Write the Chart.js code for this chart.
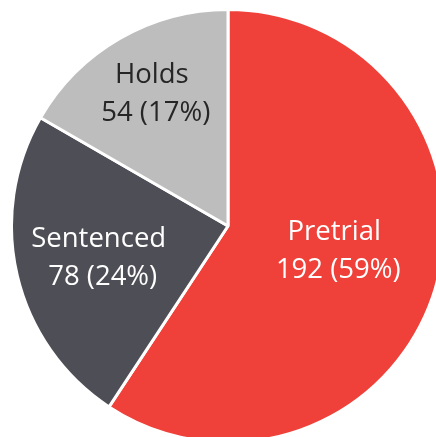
<!DOCTYPE html>
<html>
<head>
<meta charset="utf-8">
<script src="https://cdn.jsdelivr.net/npm/chart.js@4/dist/chart.umd.min.js"></script>
<style>
html,body{margin:0;padding:0;background:#fff;overflow:hidden;width:436px;height:437px;}
#wrap{position:absolute;left:10px;top:8px;width:436px;height:436px;}
</style>
</head>
<body>
<div id="wrap"><canvas id="c"></canvas></div>
<script>
const categories = ["Pretrial", "Sentenced", "Holds"];
const values = [192, 78, 54];
const percentLabels = ["59%", "24%", "17%"];
const colors = ["#EF4139", "#4E4E56", "#BDBDBD"];
const textColors = ["#FFFFFF", "#FFFFFF", "#262626"];
// label centers, in units of the pie radius relative to the centre
const labelOffsets = [[0.50, 0.109], [-0.588, 0.141], [-0.343, -0.618]];

const labelPlugin = {
  id: 'sliceLabels',
  afterDatasetsDraw(chart) {
    const ctx = chart.ctx;
    const meta = chart.getDatasetMeta(0);
    ctx.save();
    ctx.font = '27.5px "Open Sans", sans-serif';
    ctx.textAlign = 'center';
    ctx.textBaseline = 'alphabetic';
    meta.data.forEach((arc, i) => {
      const r = arc.outerRadius;
      const cx = arc.x + labelOffsets[i][0] * r;
      const cy = arc.y + labelOffsets[i][1] * r;
      ctx.fillStyle = textColors[i];
      ctx.fillText(categories[i], cx - 2, cy - 9.5);
      ctx.fillText(values[i] + " (" + percentLabels[i] + ")", cx + 2, cy + 28.5);
    });
    ctx.restore();
  }
};

new Chart(document.getElementById('c'), {
  type: 'pie',
  data: {
    labels: categories,
    datasets: [{
      data: values,
      backgroundColor: colors,
      borderColor: '#FFFFFF',
      borderWidth: 3
    }]
  },
  options: {
    responsive: true,
    maintainAspectRatio: false,
    animation: false,
    layout: { padding: 0 },
    plugins: { legend: { display: false }, tooltip: { enabled: false } }
  },
  plugins: [labelPlugin]
});
</script>
</body>
</html>
